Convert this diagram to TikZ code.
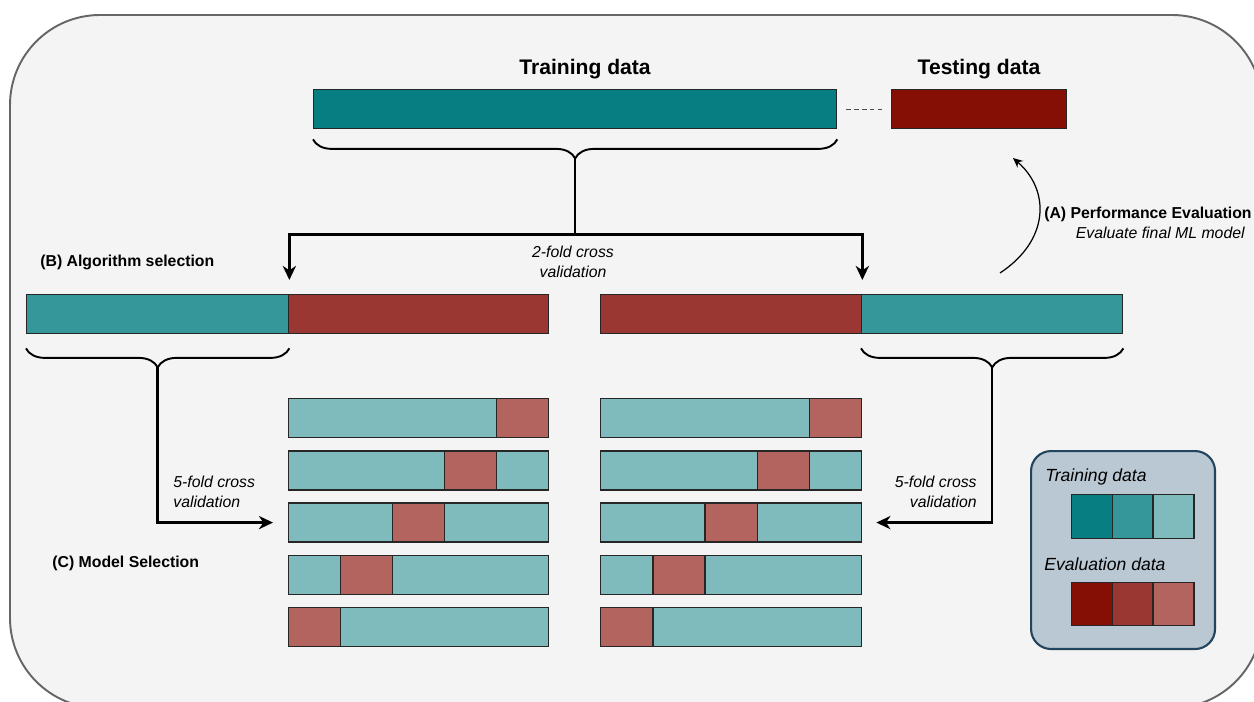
\documentclass[tikz,border=0pt]{standalone}
\usepackage{fontspec}
\setmainfont{Liberation Sans}
\usetikzlibrary{arrows.meta, positioning, calc, decorations.pathreplacing}
\definecolor{trainD}{HTML}{077E82}
\definecolor{trainM}{HTML}{35979A}
\definecolor{trainL}{HTML}{7FBBBD}
\definecolor{evalD}{HTML}{850E05}
\definecolor{evalM}{HTML}{9B3732}
\definecolor{evalL}{HTML}{B3645F}
\definecolor{bgcol}{HTML}{F4F4F4}
\definecolor{legF}{HTML}{BAC8D3}
\definecolor{legB}{HTML}{23445D}
\tikzset{
  seg/.style={draw=black!85, line width=0.8pt, minimum height=0.78cm, inner sep=0pt, anchor=north west},
  frm/.style={draw=black!60, line width=1.1pt, fill=bgcol, rounded corners=1.8cm},
  flo/.style={-{Stealth[length=8pt, width=7.5pt, inset=2.5pt]}, line width=1.4pt},
  brc/.style={decorate, decoration={brace, amplitude=0.38cm}, line width=1.1pt},
  ttl/.style={font=\fontsize{12}{14}\selectfont\bfseries},
  blab/.style={font=\fontsize{9}{11}\selectfont\bfseries, inner sep=0pt},
  ilab/.style={font=\fontsize{9}{11}\selectfont\itshape, inner sep=0pt},
  llab/.style={font=\fontsize{10}{12}\selectfont\itshape, inner sep=0pt, anchor=west},
  leg/.style={draw=legB, fill=legF, line width=1.2pt, rounded corners=0.4cm, minimum width=3.68cm, minimum height=3.96cm, anchor=north west},
  sq/.style={seg, minimum width=0.814cm}
}
\begin{document}
\begin{tikzpicture}[x=0.02cm, y=-0.02cm]
		\useasboundingbox (0,0) rectangle (1254,702);
		\clip (0,0) rectangle (1254,702);
		\fill[white] (0,0) rectangle (1254,702);
		\draw[frm] (10,15) rectangle (1262,708);
		% full data set
		\node[ttl] (trtitle) at (585,69) {Training data};
		\node[ttl] (tetitle) at (979,69) {Testing data};
		\node[seg, fill=trainD, minimum width=10.46cm] (train) at (313,89) {};
		\node[seg, fill=evalD, minimum width=3.5cm] (test) at (891,89) {};
		\draw[dashed, dash pattern=on 2.5pt off 2pt, draw=black!70, line width=0.6pt, shorten <=0.18cm, shorten >=0.18cm] (train.east) -- (test.west);
		\draw[brc] ([yshift=-0.2cm]train.south east) -- ([yshift=-0.2cm]train.south west);
		\coordinate (trtip) at ([yshift=-0.6cm]train.south);
		\coordinate (split) at ([yshift=-2.1cm]train.south);
		% outer 2-fold split
		\node[seg, fill=trainM, minimum width=5.24cm] (algLa) at (26,294) {};
		\node[seg, fill=evalM, minimum width=5.2cm] (algLb) at (288,294) {};
		\node[seg, fill=evalM, minimum width=5.22cm] (algRa) at (600,294) {};
		\node[seg, fill=trainM, minimum width=5.22cm] (algRb) at (861,294) {};
		\draw[line width=1.4pt] (trtip) -- (split);
		\draw[flo, shorten >=0.28cm] (split) -| (algLa.north east);
		\draw[flo, shorten >=0.28cm] (split) -| (algRa.north east);
		\node[blab, anchor=west] (algsel) at (40,262) {(B) Algorithm selection};
		\node[ilab, align=center] (twofold) at (573,262) {2-fold cross\\validation};
		% inner 5-fold splits
		\foreach \r in {0,...,4} {
			\node[seg, fill=trainL, minimum width=5.2cm] (lbar\r) at ({288}, {398+52.2*\r}) {};
			\node[seg, fill=evalL, minimum width=1.04cm] (lval\r) at ({288+52*(4-\r)}, {398+52.2*\r}) {};
			\node[seg, fill=trainL, minimum width=5.22cm] (rbar\r) at ({600}, {398+52.2*\r}) {};
			\node[seg, fill=evalL, minimum width=1.044cm] (rval\r) at ({600+52.2*(4-\r)}, {398+52.2*\r}) {};
		}
		\draw[brc] ([yshift=-0.28cm]algLa.south east) -- ([yshift=-0.28cm]algLa.south west);
		\draw[brc] ([yshift=-0.28cm]algRb.south east) -- ([yshift=-0.28cm]algRb.south west);
		\coordinate (ltip) at ([yshift=-0.66cm]algLa.south);
		\coordinate (rtip) at ([yshift=-0.66cm]algRb.south);
		\draw[flo, shorten >=0.3cm] (ltip) |- (lbar2.west);
		\draw[flo, shorten >=0.28cm] (rtip) |- (rbar2.east);
		\node[ilab, align=left, anchor=west] (fiveL) at (173,492) {5-fold cross\\validation};
		\node[ilab, align=right, anchor=east] (fiveR) at (977,492) {5-fold cross\\validation};
		\node[blab, anchor=west] (modsel) at (52,563) {(C) Model Selection};
		% final evaluation
		\coordinate (evstart) at (1000,273);
		\coordinate (evend) at (1013,158);
		\draw[-{Stealth[length=5.5pt, width=5pt]}, line width=0.7pt] (evstart) .. controls (1050,240) and (1050,190) .. (evend);
		\node[blab, align=right, anchor=east] (perf) at (1252,223) {(A) Performance Evaluation\\{\mdseries\itshape Evaluate final ML model}\hspace*{0.14cm}};
		% legend
		\node[leg] (legend) at (1030,450) {};
		\node[llab] (legtr) at (1045,477) {Training data};
		\node[llab] (legev) at (1044,564) {Evaluation data};
		\foreach \c [count=\i from 0] in {trainD, trainM, trainL}
			\node[sq, fill=\c, minimum height=0.88cm] (lt\i) at ({1071+40.7*\i}, 494) {};
		\foreach \c [count=\i from 0] in {evalD, evalM, evalL}
			\node[sq, fill=\c, minimum height=0.86cm] (le\i) at ({1071+40.7*\i}, 582) {};
	\end{tikzpicture}
\end{document}
